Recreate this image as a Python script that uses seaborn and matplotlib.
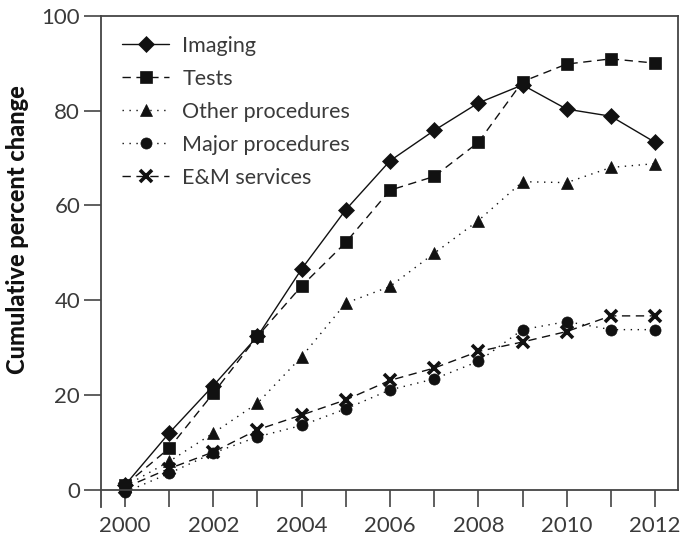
import numpy as np
import pandas as pd
import matplotlib
matplotlib.use("Agg")
import matplotlib.pyplot as plt
import seaborn as sns

# data
years = list(range(2000, 2013))
imaging = [1, 12, 22, 32.4, 46.6, 59.1, 69.4, 75.8, 81.6, 85.4, 80.3, 78.8, 73.3]
tests = [1, 8.8, 20.4, 32.4, 43.0, 52.2, 63.2, 66.1, 73.3, 86.1, 89.8, 90.9, 90.0]
other_proc = [0.8, 6, 12, 18.3, 28.1, 39.4, 42.9, 49.9, 56.8, 65.0, 64.8, 68, 68.8]
major_proc = [-0.5, 3.5, 7.8, 11.2, 13.6, 17.1, 21.1, 23.4, 27.1, 33.8, 35.5, 33.8, 33.8]
em_services = [0.5, 4.5, 8, 12.7, 15.8, 19.0, 23.1, 25.7, 29.2, 31.2, 33.4, 36.7, 36.7]

series = [
    ("Imaging", imaging, "D", "-", 8),
    ("Tests", tests, "s", (0, (6, 4)), 8),
    ("Other procedures", other_proc, "^", (0, (1, 4)), 8.5),
    ("Major procedures", major_proc, "o", (0, (1, 4)), 8),
    ("E&M services", em_services, "x", (0, (6, 4)), 8),
]

sns.set_style("white")
plt.rcParams["font.family"] = ["Lato", "DejaVu Sans"]

fig = plt.figure(figsize=(6.83, 5.46), dpi=100)
ax = fig.add_axes([101 / 683, 1 - 507 / 546, 577 / 683, (507 - 15.7) / 546])

for name, vals, mk, ls, ms in series:
    df = pd.DataFrame({"year": years, "value": vals})
    sns.lineplot(data=df, x="year", y="value", ax=ax, color="#111111",
                 linestyle=ls, linewidth=1.0, marker=mk, markersize=ms,
                 markeredgewidth=2.6 if mk == "x" else 0.5,
                 markeredgecolor="#111111", markerfacecolor="#111111",
                 label=name)

ax.set_xlim(1999.457, 2012.52)
ax.set_ylim(-3.6, 100)

ax.set_xticks(range(2000, 2013, 2))
ax.set_xticks(range(2001, 2013, 2), minor=True)
ax.set_yticks(range(0, 101, 20))

for s in ["left", "top", "right", "bottom"]:
    ax.spines[s].set_visible(True)
    ax.spines[s].set_color("#444444")
    ax.spines[s].set_linewidth(1.3)
ax.spines["bottom"].set_position(("data", 0))
ax.spines["right"].set_bounds(0, 100)

ax.tick_params(axis="x", which="both", direction="out", length=12, width=1.2,
               color="#444444", labelsize=16, labelcolor="#3a3a3a", pad=7,
               bottom=True)
ax.tick_params(axis="y", direction="out", length=12, width=1.2,
               color="#444444", labelsize=16, labelcolor="#3a3a3a", pad=3,
               left=True)

ax.set_xlabel("")
ax.set_ylabel("")
fig.text(18 / 683, 1 - 230 / 546, "Cumulative percent change", rotation=90,
         ha="center", va="center", fontsize=17, fontweight="black",
         color="#111111")

leg = ax.legend(loc="upper left", bbox_to_anchor=(122 / 683, 1 - 36 / 546),
                bbox_transform=fig.transFigure, frameon=False, fontsize=15.5,
                handlelength=2.2, handletextpad=0.6, labelspacing=0.6,
                borderpad=0, borderaxespad=0)
for t in leg.get_texts():
    t.set_color("#3a3a3a")

fig.savefig("out.png", dpi=100)
